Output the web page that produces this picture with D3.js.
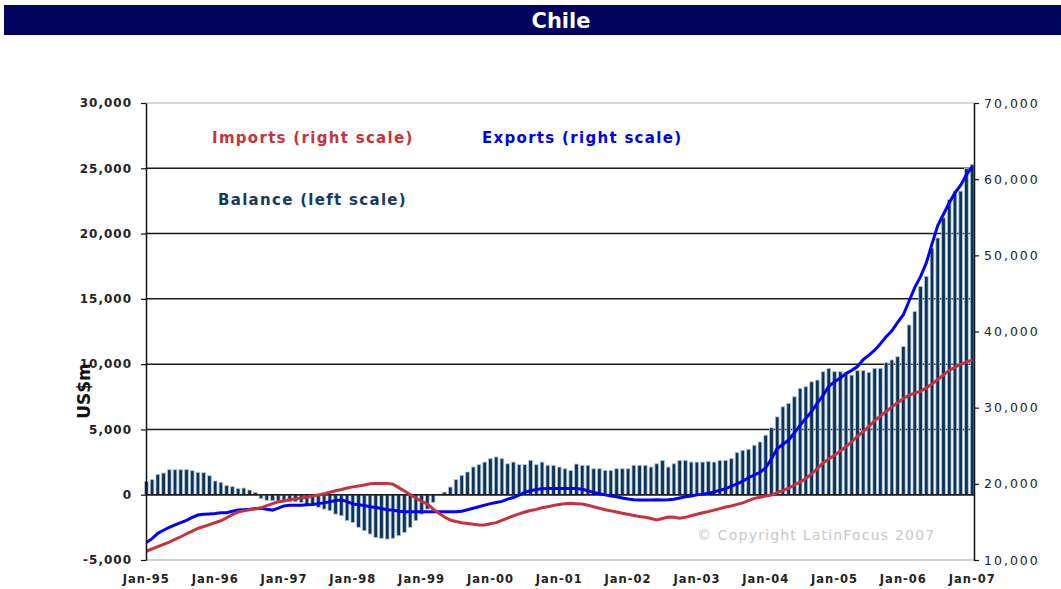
<!DOCTYPE html>
<html>
<head>
<meta charset="utf-8">
<script src="https://cdn.jsdelivr.net/npm/d3@7"></script>
<style>
  body { margin: 0; background: #fff; }
  svg text { font-family: "DejaVu Sans", Verdana, sans-serif; }
</style>
</head>
<body>
<svg width="1061" height="589"></svg>
<script>
// monthly trade, 12-month rolling, US$m (Jan-95 .. Jan-07)
let balance = [
  1020, 1150, 1560, 1660, 1915, 1915, 1915, 1915, 1840, 1710, 1690, 1455,
  1050, 945, 690, 615, 470, 510, 360, 180, -300, -430, -460, -460,
  -460, -540, -540, -590, -840, -840, -970, -1100, -1225, -1480, -1610, -1990,
  -2120, -2500, -2760, -3010, -3270, -3340, -3400, -3340, -3140, -2890, -2500, -1990,
  -1480, -1100, -590, -80, 200, 590, 1150, 1480, 1740, 2120, 2300, 2500,
  2760, 2890, 2760, 2370, 2500, 2300, 2300, 2630, 2300, 2500, 2250, 2250,
  2120, 1990, 1860, 2350, 2250, 2250, 1990, 1990, 1860, 1860, 1990, 1990,
  1990, 2250, 2250, 2250, 2120, 2370, 2630, 2120, 2370, 2630, 2630, 2500,
  2500, 2500, 2550, 2500, 2630, 2630, 2760, 3220, 3400, 3480, 3790, 4040,
  4560, 5120, 5960, 6730, 6990, 7500, 8140, 8270, 8650, 8780, 9420, 9680,
  9420, 9420, 9370, 9160, 9500, 9500, 9370, 9680, 9680, 10110, 10320, 10570,
  11340, 13000, 14030, 15950, 16720, 18890, 19660, 21200, 22600, 23250, 23250, 24990,
  25290
];

let exportsRight = [
  12300, 12800, 13500, 13900, 14300, 14600, 14900, 15200, 15600, 15900, 16000, 16050,
  16100, 16200, 16200, 16400, 16550, 16600, 16650, 16750, 16780, 16650, 16550, 16800,
  17100, 17200, 17200, 17200, 17250, 17300, 17400, 17500, 17650, 17800, 17880, 17700,
  17350, 17250, 17150, 17000, 16900, 16750, 16600, 16550, 16400, 16350, 16340, 16340,
  16340, 16340, 16340, 16340, 16340, 16340, 16340, 16400, 16600, 16800, 17000, 17200,
  17400, 17550, 17700, 18000, 18200, 18500, 18900, 19100, 19250, 19350, 19400, 19400,
  19400, 19400, 19400, 19400, 19300, 19100, 18850, 18700, 18550, 18400, 18300, 18150,
  18000, 17900, 17880, 17880, 17880, 17900, 17880, 17900, 17970, 18150, 18300, 18400,
  18550, 18650, 18750, 18950, 19150, 19350, 19700, 20000, 20350, 20800, 21160, 21500,
  22100, 23300, 24600, 25200, 25750, 26700, 27700, 28600, 29500, 30600, 31600, 32800,
  33400, 33900, 34500, 34900, 35400, 36300, 36900, 37550, 38400, 39300, 40100, 41200,
  42200, 44000, 45800, 47200, 49000, 51500, 53900, 55400, 56900, 58200, 59200, 60600,
  61600
];

let importsRight = [
  11150, 11450, 11750, 12050, 12350, 12700, 13050, 13450, 13800, 14150, 14400, 14650,
  14900, 15150, 15550, 15950, 16300, 16450, 16600, 16700, 16850, 17150, 17400, 17650,
  17750, 17900, 18050, 18150, 18250, 18400, 18530, 18700, 18900, 19100, 19250, 19450,
  19600, 19720, 19850, 20000, 20060, 20060, 20060, 19950, 19500, 19050, 18600, 18150,
  17700, 17350, 16700, 16150, 15650, 15250, 15050, 14900, 14800, 14700, 14600, 14600,
  14750, 14900, 15200, 15500, 15800, 16050, 16300, 16500, 16650, 16850, 17000, 17150,
  17300, 17400, 17440, 17400, 17350, 17200, 17000, 16800, 16600, 16450, 16300, 16150,
  16000, 15850, 15700, 15600, 15450, 15250, 15450, 15650, 15600, 15470, 15600, 15800,
  16000, 16200, 16350, 16550, 16750, 16950, 17100, 17300, 17500, 17800, 18090, 18250,
  18400, 18530, 18850, 19150, 19450, 19850, 20250, 20700, 21300, 22000, 22750, 23250,
  23750, 24300, 24900, 25500, 26250, 26850, 27550, 28300, 28900, 29500, 30100, 30650,
  31200, 31650, 31900, 32150, 32600, 33100, 33700, 34300, 34900, 35300, 35700, 36000,
  36250
];

let yearLabels = ["Jan-95", "Jan-96", "Jan-97", "Jan-98", "Jan-99", "Jan-00", "Jan-01",
  "Jan-02", "Jan-03", "Jan-04", "Jan-05", "Jan-06", "Jan-07"];
let leftTicks = [-5000, 0, 5000, 10000, 15000, 20000, 25000, 30000];
let rightTicks = [10000, 20000, 30000, 40000, 50000, 60000, 70000];

let months = d3.timeMonth.range(new Date(1995, 0, 1), new Date(2007, 0, 2));

let svg = d3.select("svg"),
  plotLeft = 146,
  plotRight = 974,
  plotTop = 103,
  plotBottom = 560;

let x = d3.scaleBand()
  .domain(d3.range(months.length))
  .range([144.5, plotRight])
  .paddingInner(0.36);
let yL = d3.scaleLinear().domain([-5000, 30000]).range([plotBottom, plotTop]);
let yR = d3.scaleLinear().domain([10000, 70000]).range([plotBottom, plotTop]);
let mid = function (i) { return x(i) + x.bandwidth() / 2; };
let fmt = function (d) { return d3.format(",")(d).replace("\u2212", "-"); };

// title band
svg.append("rect")
  .attr("x", 4).attr("y", 5).attr("width", 1057).attr("height", 30)
  .attr("fill", "#02025f");
svg.append("text")
  .attr("x", 561).attr("y", 28)
  .attr("text-anchor", "middle")
  .attr("fill", "#fff")
  .style("font-size", "21px").style("font-weight", "bold")
  .text("Chile");

// frame
svg.append("line").attr("x1", plotLeft).attr("x2", plotRight).attr("y1", plotTop).attr("y2", plotTop)
  .attr("stroke", "#c8c8c8").attr("stroke-width", 1.5);
svg.append("line").attr("x1", plotLeft).attr("x2", plotRight).attr("y1", plotBottom).attr("y2", plotBottom)
  .attr("stroke", "#c0c0c0").attr("stroke-width", 1.5);

// gridlines (left scale)
svg.append("g")
  .selectAll("line")
  .data(leftTicks.filter(function (d) { return d > -5000 && d < 30000; }))
  .enter()
  .append("line")
  .attr("x1", plotLeft).attr("x2", plotRight)
  .attr("y1", function (d) { return yL(d); })
  .attr("y2", function (d) { return yL(d); })
  .attr("stroke", "#1a1a1a").attr("stroke-width", 1.5);

// balance bars
svg.append("g")
  .selectAll("rect")
  .data(balance)
  .enter()
  .append("rect")
  .attr("x", function (d, i) { return x(i); })
  .attr("width", x.bandwidth())
  .attr("y", function (d) { return yL(Math.max(0, d)); })
  .attr("height", function (d) { return Math.abs(yL(d) - yL(0)); })
  .attr("fill", "#0b3358")
  .attr("stroke", "#b4c6da")
  .attr("stroke-width", 0.8);

// zero line on top of the bars
svg.append("line").attr("x1", plotLeft).attr("x2", plotRight).attr("y1", yL(0)).attr("y2", yL(0))
  .attr("stroke", "#1a1a1a").attr("stroke-width", 1.5);

// export / import lines (right scale)
let line = d3.line()
  .x(function (d, i) { return mid(i); })
  .y(function (d) { return yR(d); });

svg.append("path").datum(exportsRight)
  .attr("d", line).attr("fill", "none")
  .attr("stroke", "#0000ff").attr("stroke-width", 3);
svg.append("path").datum(importsRight)
  .attr("d", line).attr("fill", "none")
  .attr("stroke", "#c8323c").attr("stroke-width", 3);

// axes
let axL = svg.append("g")
  .attr("transform", "translate(" + plotLeft + ",0)")
  .call(d3.axisLeft(yL).tickValues(leftTicks).tickFormat(fmt)
    .tickSize(5).tickSizeOuter(0).tickPadding(9));
axL.selectAll("text")
  .style("font-size", "12px").style("font-weight", "bold")
  .style("letter-spacing", "1px").attr("fill", "#222");

let axR = svg.append("g")
  .attr("transform", "translate(" + plotRight + ",0)")
  .call(d3.axisRight(yR).tickValues(rightTicks).tickFormat(fmt)
    .tickSize(5).tickSizeOuter(0).tickPadding(5));
axR.selectAll("text")
  .style("font-size", "12.5px")
  .style("letter-spacing", "2px").attr("fill", "#222");

let axB = svg.append("g")
  .attr("transform", "translate(0," + plotBottom + ")")
  .call(d3.axisBottom(x)
    .tickValues(d3.range(0, months.length, 12))
    .tickFormat(function (d) { return yearLabels[d / 12]; })
    .tickSize(0).tickPadding(15));
axB.select(".domain").remove();
axB.selectAll("text")
  .style("font-size", "11.5px").style("font-weight", "bold")
  .style("letter-spacing", "1px").attr("fill", "#222");

svg.selectAll(".domain").attr("stroke", "#111").attr("stroke-width", 1.5);
svg.selectAll(".tick line").attr("stroke", "#111").attr("stroke-width", 1.2);

// axis title
svg.append("text")
  .attr("transform", "translate(90,391) rotate(-90)")
  .attr("text-anchor", "middle")
  .style("font-size", "17px").style("font-weight", "bold")
  .attr("fill", "#111")
  .text("US$m");

// series labels
let labels = [
  { t: "Imports (right scale)", x: 212, y: 143, c: "#c8323c" },
  { t: "Exports (right scale)", x: 482, y: 143, c: "#0000f0" },
  { t: "Balance (left scale)", x: 218, y: 205, c: "#163a5e" }
];
svg.append("g")
  .selectAll("text")
  .data(labels)
  .enter()
  .append("text")
  .attr("x", function (d) { return d.x; })
  .attr("y", function (d) { return d.y; })
  .attr("fill", function (d) { return d.c; })
  .style("font-size", "15px").style("font-weight", "bold")
  .style("letter-spacing", "1.3px")
  .text(function (d) { return d.t; });

svg.append("text")
  .attr("x", 697).attr("y", 540)
  .attr("fill", "#c8c8c8")
  .style("font-size", "14px").style("letter-spacing", "1.2px")
  .text("\u00a9 Copyright LatinFocus 2007");
</script>
</body>
</html>
